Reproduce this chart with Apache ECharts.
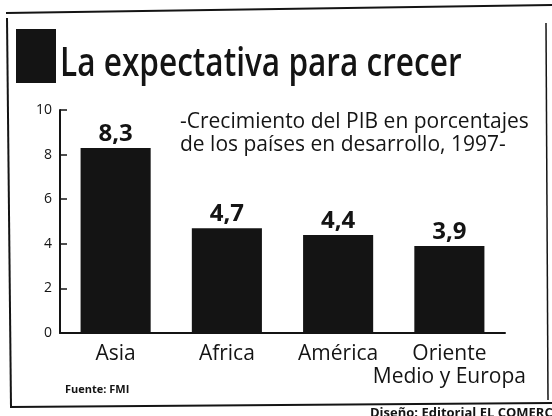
<!DOCTYPE html>
<html>
<head>
<meta charset="utf-8">
<script src="https://cdn.jsdelivr.net/npm/echarts@6/dist/echarts.min.js"></script>
<style>
  html, body { margin: 0; padding: 0; background: #fff; }
  #chart { width: 552px; height: 416px; }
</style>
</head>
<body>
<div id="chart"></div>
<script>
// datos
const regions = ['Asia', 'Africa', 'América', 'Oriente\nMedio y Europa'];
const growth = [8.3, 4.7, 4.4, 3.9];
const yMax = 10;
const yStep = 2;

const titleText = 'La expectativa para crecer';
const subtitleText = '-Crecimiento del PIB en porcentajes\nde los países en desarrollo, 1997-';
const sourceText = 'Fuente: FMI';
const creditText = 'Diseño: Editorial EL COMERCIO';

const ink = '#141414';
const chart = echarts.init(document.getElementById('chart'), null, { renderer: 'canvas' });

const option = {
  backgroundColor: '#fff',
  animation: false,
  grid: { left: 60, right: 47, top: 110, bottom: 83 },
  xAxis: {
    type: 'category',
    data: regions,
    boundaryGap: true,
    axisLine: { lineStyle: { color: ink, width: 2 } },
    axisTick: { inside: true, length: 5, lineStyle: { color: ink, width: 1.5 } },
    axisLabel: {
      color: ink,
      fontFamily: 'Open Sans',
      fontSize: 21,
      lineHeight: 23,
      margin: 10,
      interval: 0
    }
  },
  yAxis: {
    type: 'value',
    min: 0,
    max: yMax,
    interval: yStep,
    splitLine: { show: false },
    axisLine: { show: true, lineStyle: { color: ink, width: 2 } },
    axisTick: { show: true, inside: true, length: 7, lineStyle: { color: ink, width: 1.5 } },
    axisLabel: { color: ink, fontFamily: 'Open Sans', fontSize: 14, margin: 8 }
  },
  series: [{
    type: 'bar',
    data: growth,
    barWidth: '63%',
    itemStyle: { color: ink },
    label: {
      show: true,
      position: 'top',
      distance: 2,
      color: ink,
      fontFamily: 'Open Sans',
      fontWeight: 'bold',
      fontSize: 24,
      formatter: p => p.value.toFixed(1).replace('.', ',')
    }
  }],
  graphic: [
    // marco recortado del periodico
    { type: 'line', shape: { x1: 6, y1: 13, x2: 552, y2: 5 }, style: { stroke: ink, lineWidth: 2 } },
    { type: 'line', shape: { x1: 7, y1: 18, x2: 11, y2: 407 }, style: { stroke: ink, lineWidth: 2 } },
    { type: 'line', shape: { x1: 546, y1: 23, x2: 548, y2: 400 }, style: { stroke: ink, lineWidth: 1.5 } },
    { type: 'line', shape: { x1: 10, y1: 407, x2: 552, y2: 403 }, style: { stroke: ink, lineWidth: 2 } },
    { type: 'rect', shape: { x: 16, y: 29, width: 40, height: 54 }, style: { fill: ink } },
    {
      // titulo condensado: Open Sans comprimida a lo ancho
      type: 'text', x: 60, y: 65, scaleX: 0.81,
      style: {
        text: titleText, fill: ink, verticalAlign: 'middle',
        font: '600 39px "Open Sans", sans-serif'
      }
    },
    {
      type: 'text', left: 180, top: 111,
      style: { text: subtitleText, fill: ink, font: '21px "Open Sans"', lineHeight: 23 }
    },
    {
      type: 'text', left: 65, top: 384,
      style: { text: sourceText, fill: ink, font: 'bold 11px "Open Sans"' }
    },
    {
      type: 'text', left: 370, top: 407,
      style: { text: creditText, fill: ink, font: 'bold 13px "Open Sans"' }
    }
  ]
};

chart.setOption(option);
</script>
</body>
</html>
